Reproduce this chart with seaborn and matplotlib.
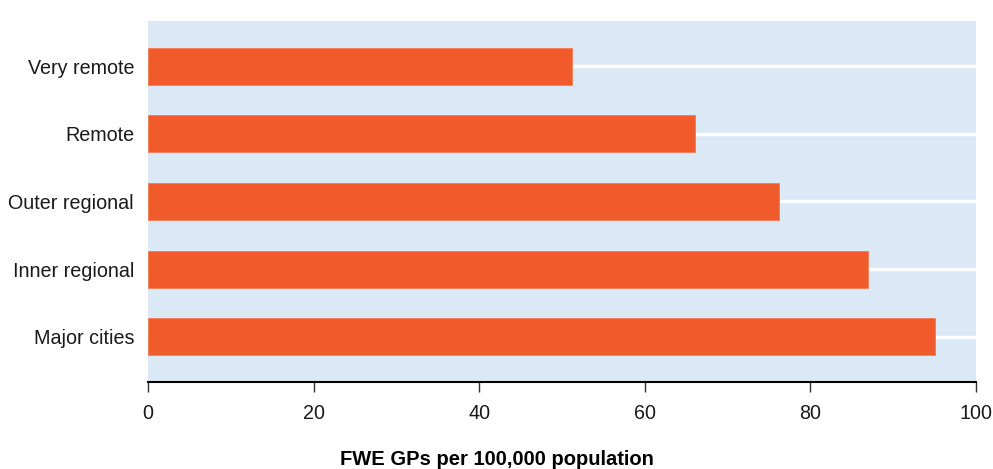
import matplotlib
matplotlib.use("Agg")
from matplotlib import pyplot as plt
import seaborn as sns
import pandas as pd

# Values
regions = ["Very remote", "Remote", "Outer regional", "Inner regional", "Major cities"]
gps_per_100k = [51.2, 66.1, 76.2, 87.0, 95.0]
x_ticks = [0, 20, 40, 60, 80, 100]

df = pd.DataFrame({"region": regions, "gps": gps_per_100k})

sns.set_theme(style="white")
plt.rcParams["font.family"] = ["Liberation Sans", "DejaVu Sans"]

fig = plt.figure(figsize=(9.93, 4.69), dpi=100)
ax = fig.add_axes([148 / 993, 1 - 382 / 469, (976 - 148) / 993, (382 - 21) / 469])
ax.set_facecolor("#dbe8f5")

sns.barplot(data=df, x="gps", y="region", order=regions, orient="h",
            color="#f15a2b", saturation=1, width=0.55,
            edgecolor="#f47a55", linewidth=0.6, ax=ax, zorder=3)

# white lines through the bar centres, behind the bars
ax.set_axisbelow(True)
ax.yaxis.grid(True, color="white", linewidth=2.5)
ax.xaxis.grid(False)

ax.set_xlim(0, 100)
ax.set_ylim(4.67, -0.67)
ax.set_xticks(x_ticks)
ax.set_xticklabels([str(t) for t in x_ticks])

for side in ["top", "right", "left"]:
    ax.spines[side].set_visible(False)
ax.spines["bottom"].set_color("black")
ax.spines["bottom"].set_linewidth(1.5)

ax.tick_params(axis="x", bottom=True, direction="out", length=7.5, width=1,
               color="#333333", labelsize=14.2, pad=8, labelcolor="#1a1a1a")
ax.tick_params(axis="y", left=False, length=0, labelsize=14.2, pad=10,
               labelcolor="#1a1a1a")

ax.set_ylabel("")
ax.set_xlabel("")
fig.text(0.5, 1 - 459 / 469, "FWE GPs per 100,000 population", fontsize=14.5,
         fontweight="bold", color="black", ha="center", va="center")

fig.savefig("out.png", dpi=100)
